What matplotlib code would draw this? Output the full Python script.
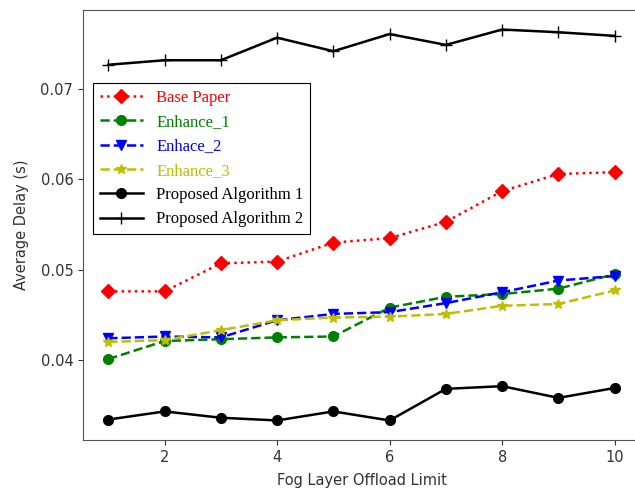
# average delay vs fog layer offload limit for the base paper, enhancements and proposed algorithms

import matplotlib
matplotlib.use('Agg')
import matplotlib.pyplot as plt

offload_limit = [1, 2, 3, 4, 5, 6, 7, 8, 9, 10]

base_paper = [0.0476, 0.0476, 0.0507, 0.0509, 0.0530, 0.0535, 0.0553, 0.0587, 0.0606, 0.0608]
enhance_1 = [0.0401, 0.0421, 0.0423, 0.0425, 0.0426, 0.0458, 0.0470, 0.0473, 0.0479, 0.0495]
enhace_2 = [0.0424, 0.0426, 0.0425, 0.0444, 0.0451, 0.0453, 0.0463, 0.0475, 0.0488, 0.0493]
enhance_3 = [0.0420, 0.0422, 0.0433, 0.0444, 0.0447, 0.0448, 0.0451, 0.0460, 0.0462, 0.0477]
proposed_1 = [0.0334, 0.0343, 0.0336, 0.0333, 0.0343, 0.0333, 0.0368, 0.0371, 0.0358, 0.0369]
proposed_2 = [0.0727, 0.0732, 0.0732, 0.0757, 0.0742, 0.0761, 0.0749, 0.0766, 0.0763, 0.0759]

fig = plt.figure(figsize=(6.35, 4.88), dpi=100)
# the original screenshot is cropped on the right, so the axes run past the edge
ax = fig.add_axes([83 / 635, 48 / 488, 557 / 635, 430 / 488])

ax.plot(offload_limit, base_paper, 'r:D', lw=1.8, ms=7.5, label='Base Paper')
ax.plot(offload_limit, enhance_1, 'g--o', lw=1.8, ms=7, label='Enhance_1')
ax.plot(offload_limit, enhace_2, 'b--v', lw=1.8, ms=7, label='Enhace_2')
ax.plot(offload_limit, enhance_3, 'y--*', lw=1.8, ms=7, label='Enhance_3')
ax.plot(offload_limit, proposed_1, 'k-o', lw=1.8, ms=7, label='Proposed Algorithm 1')
ax.plot(offload_limit, proposed_2, 'k-+', lw=1.8, ms=8, label='Proposed Algorithm 2')

ax.set_xticks([2, 4, 6, 8, 10])
ax.set_yticks([0.04, 0.05, 0.06, 0.07])
ax.tick_params(labelsize=10.5, colors='#333333')
ax.set_xlabel('Fog Layer Offload Limit', fontsize=10.5, color='#333333', labelpad=6)
ax.set_ylabel('Average Delay (s)', fontsize=10.5, color='#333333', labelpad=8)
for s in ax.spines.values():
    s.set_color('#555555')

leg = ax.legend(loc='upper left', bbox_to_anchor=(0.018, 0.83),
                prop={'family': 'Liberation Serif', 'size': 12},
                fancybox=False, edgecolor='black', framealpha=1,
                borderaxespad=0, handlelength=2.6)
for line, text in zip(leg.get_lines(), leg.get_texts()):
    text.set_color(line.get_color())
leg.get_frame().set_linewidth(0.8)

fig.savefig('out.png', dpi=100)
